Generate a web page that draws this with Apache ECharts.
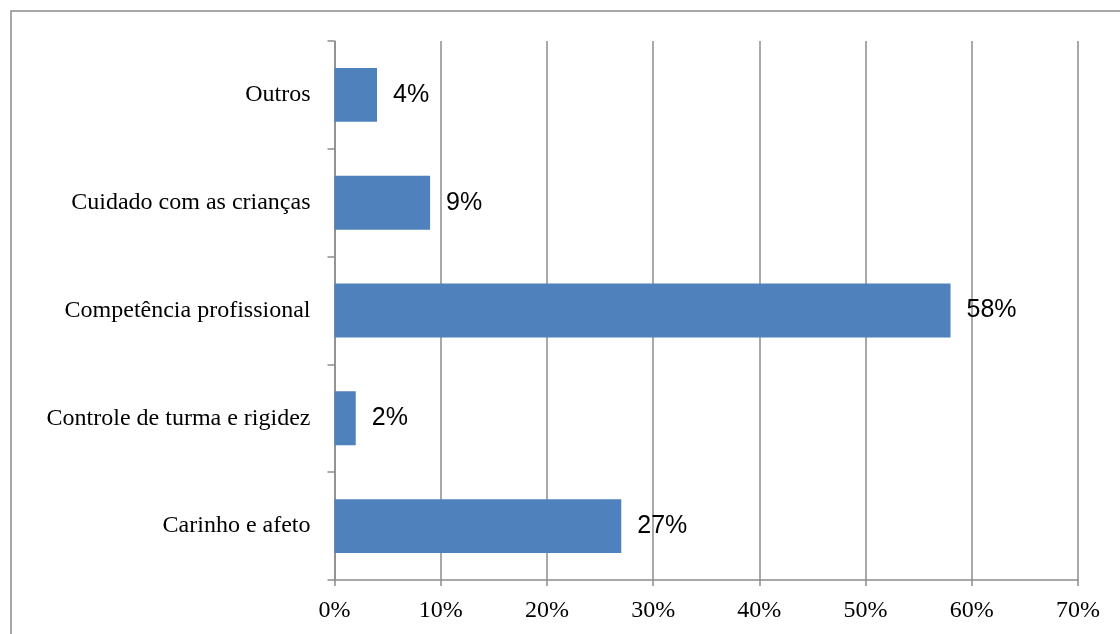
<!DOCTYPE html>
<html>
<head>
<meta charset="utf-8">
<script src="https://cdn.jsdelivr.net/npm/echarts@6/dist/echarts.min.js"></script>
<style>
  html, body { margin: 0; padding: 0; background: #fff; }
  #chart { width: 1120px; height: 634px; }
</style>
</head>
<body>
<div id="chart"></div>
<script>
// categories from bottom to top
const categories = [
  "Carinho e afeto",
  "Controle de turma e rigidez",
  "Competência profissional",
  "Cuidado com as crianças",
  "Outros"
];
const percentValues = [27, 2, 58, 9, 4];
const tickLabels = ["0%", "10%", "20%", "30%", "40%", "50%", "60%", "70%"];

const gray = "#8c8c8c";
const chart = echarts.init(document.getElementById("chart"));

chart.setOption({
  animation: false,
  backgroundColor: "#fff",
  graphic: [{
    type: "rect",
    shape: { x: 11, y: 11, width: 1200, height: 700 },
    style: { fill: "none", stroke: gray, lineWidth: 1.5 },
    silent: true
  }],
  grid: { left: 334.5, right: 42, top: 41, bottom: 54 },
  xAxis: {
    type: "value",
    min: 0,
    max: 70,
    interval: 10,
    axisLine: { show: true, lineStyle: { color: gray, width: 1.5 } },
    axisTick: { show: true, length: 6, lineStyle: { color: gray, width: 1.5 } },
    splitLine: { show: true, lineStyle: { color: gray, width: 1.5 } },
    axisLabel: {
      margin: 19,
      fontFamily: "Liberation Serif",
      fontSize: 24,
      color: "#000",
      formatter: (v) => tickLabels[Math.round(v / 10)]
    }
  },
  yAxis: {
    type: "category",
    data: categories,
    axisLine: { show: true, lineStyle: { color: gray, width: 1.5 } },
    axisTick: { show: true, length: 7, lineStyle: { color: gray, width: 1.5 } },
    axisLabel: {
      margin: 24,
      fontFamily: "Liberation Serif",
      fontSize: 24,
      color: "#000"
    }
  },
  series: [{
    type: "bar",
    data: percentValues,
    barWidth: "50%",
    itemStyle: { color: "#4f81bd" },
    label: {
      show: true,
      position: "right",
      distance: 16,
      fontFamily: "Liberation Sans",
      fontSize: 25,
      color: "#000",
      formatter: (p) => p.value + "%"
    }
  }]
});
</script>
</body>
</html>
